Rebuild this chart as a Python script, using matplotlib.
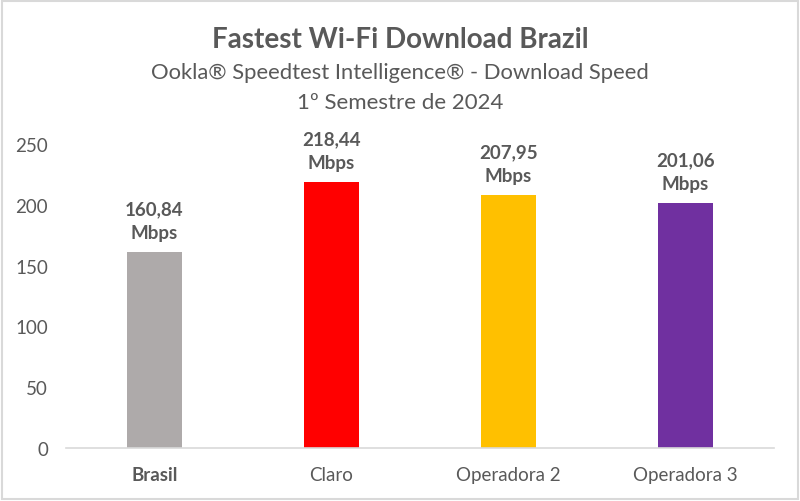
import matplotlib
matplotlib.use("Agg")
import matplotlib.pyplot as plt
from matplotlib.patches import Rectangle

categories = ["Brasil", "Claro", "Operadora 2", "Operadora 3"]
values = [160.84, 218.44, 207.95, 201.06]
value_labels = ["160,84\nMbps", "218,44\nMbps", "207,95\nMbps", "201,06\nMbps"]
colors = ["#AEAAAA", "#FF0000", "#FFC000", "#7030A0"]
yticks = [0, 50, 100, 150, 200, 250]

plt.rcParams['font.family'] = ['Lato', 'DejaVu Sans']
txt = "#595959"

fig = plt.figure(figsize=(8, 5.02), dpi=100)
ax = fig.add_axes([0.0825, 0.1056, 0.885, 0.6056])
x = list(range(len(categories)))
ax.bar(x, values, width=0.31, color=colors, zorder=2)
ax.set_xlim(-0.5, 3.5)
ax.set_ylim(0, 250)
ax.set_yticks(yticks)
ax.set_yticklabels([str(t) for t in yticks], fontsize=13.5, color=txt)
ax.set_xticks(x)
ax.set_xticklabels(categories, fontsize=13.5, color=txt)
for i, lab in enumerate(ax.get_xticklabels()):
    if i == 0:
        lab.set_fontweight('bold')
ax.tick_params(axis='both', length=0)
ax.tick_params(axis='x', pad=13)
ax.tick_params(axis='y', pad=13)
for s in ['top', 'right', 'left']:
    ax.spines[s].set_visible(False)
ax.spines['bottom'].set_color('#D9D9D9')
ax.spines['bottom'].set_linewidth(1.2)

for xi, v, lab in zip(x, values, value_labels):
    ax.annotate(lab, (xi, v), xytext=(0, 8), textcoords='offset points',
                ha='center', va='bottom', fontsize=13.5, fontweight='bold',
                color=txt, linespacing=1.5, annotation_clip=False)

fig.text(0.5, 1 - 40/502, "Fastest Wi-Fi Download Brazil", ha='center', va='center',
         fontsize=20, fontweight='bold', color=txt)
fig.text(0.5, 1 - 73/502, "Ookla® Speedtest Intelligence® - Download Speed", ha='center',
         va='center', fontsize=15.8, color=txt)
fig.text(0.5, 1 - 103/502, "1º Semestre de 2024", ha='center', va='center',
         fontsize=16, color=txt)

fig.patches.append(Rectangle((0.002, 0.003), 0.996, 0.994, transform=fig.transFigure,
                             fill=False, edgecolor='#D9D9D9', linewidth=1.5))
fig.savefig("out.png", dpi=100)
